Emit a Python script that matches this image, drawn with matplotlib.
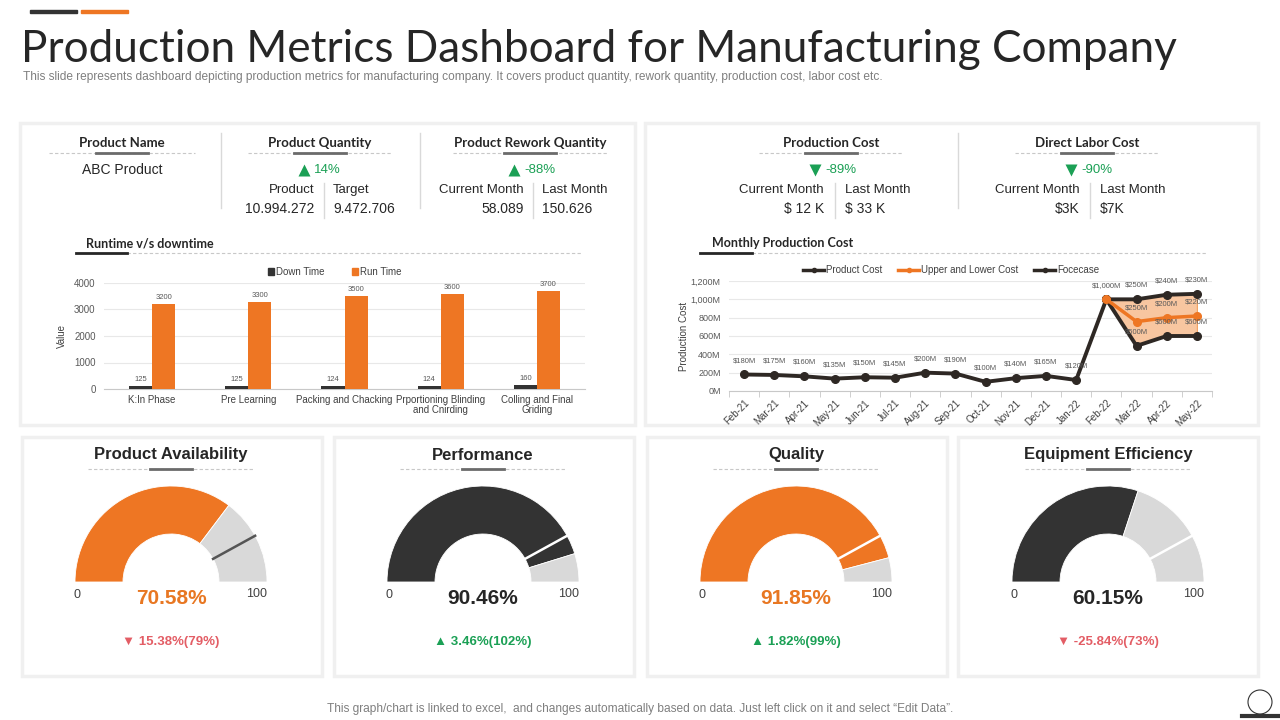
import numpy as np
import matplotlib.pyplot as plt
from matplotlib import patches
from matplotlib.lines import Line2D

# ---------------- data ----------------
categories = ['K:In Phase', 'Pre Learning', 'Packing and Chacking',
              'Prportioning Blinding\nand Cnirding', 'Colling and Final\nGriding']
down_time = [125, 125, 124, 124, 160]
run_time = [3200, 3300, 3500, 3600, 3700]

months = ['Feb-21', 'Mar-21', 'Apr-21', 'May-21', 'Jun-21', 'Jul-21', 'Aug-21', 'Sep-21',
          'Oct-21', 'Nov-21', 'Dec-21', 'Jan-22', 'Feb-22', 'Mar-22', 'Apr-22', 'May-22']
product_cost = [180, 175, 160, 135, 150, 145, 200, 190, 100, 140, 165, 120, 1000]
cost_labels = ['$180M', '$175M', '$160M', '$135M', '$150M', '$145M', '$200M', '$190M',
               '$100M', '$140M', '$165M', '$120M']
upper_cost = [1000, 1000, 1050, 1060]
mid_cost = [1000, 757, 800, 818]
lower_cost = [1000, 492, 600, 600]
upper_labels = ['$1,000M', '$250M', '$240M', '$230M']
mid_labels = ['', '$250M', '$200M', '$220M']
lower_labels = ['', '$500M', '$600M', '$600M']

gauge_titles = ['Product Availability', 'Performance', 'Quality', 'Equipment Efficiency']
gauge_values = [70.58, 90.46, 91.85, 60.15]
gauge_targets = [84, 84, 84, 84]
gauge_delta = ['15.38%(79%)', '3.46%(102%)', '1.82%(99%)', '-25.84%(73%)']
gauge_up = [False, True, True, False]

# ---------------- style ----------------
W, H = 1280, 720
ORANGE = '#EE7623'
DARK = '#333333'
LINE_DARK = '#2e2824'
GREY = '#D9D9D9'
GREEN = '#1BA055'
RED = '#E35D65'
TXT = '#262626'
plt.rcParams['font.family'] = ['Liberation Sans', 'DejaVu Sans']
NARROW = ['Liberation Sans Narrow', 'Liberation Sans', 'DejaVu Sans']
HEAD = ['Lato', 'DejaVu Sans']

fig = plt.figure(figsize=(12.8, 7.2), dpi=100)
ax0 = fig.add_axes([0, 0, 1, 1])
ax0.set_xlim(0, W)
ax0.set_ylim(H, 0)
ax0.axis('off')


def box(x, y, w, h):
    return [x / W, 1 - (y + h) / H, w / W, h / H]


def head(x, y, text, half, solid, gap, size, fam, color=TXT):
    ax0.text(x, y, text, ha='center', va='center', fontsize=size, weight='bold',
             family=fam, color=color)
    ax0.plot([x - half, x + half], [y + gap, y + gap], color='#c8c8c8', lw=0.8, ls=(0, (3, 2)))
    ax0.plot([x - solid, x + solid], [y + gap, y + gap], color='#6b6b6b', lw=2)


def chart_title(x, y, text, x0, x1, x2):
    ax0.text(x, y, text, ha='left', va='center', fontsize=9, weight='bold', family=HEAD, color=TXT)
    ax0.plot([x1, x2], [y + 10, y + 10], color='#c8c8c8', lw=0.8, ls=(0, (3, 2)))
    ax0.plot([x0, x1], [y + 10, y + 10], color=TXT, lw=2)


# header
ax0.add_patch(patches.Rectangle((30, 10), 47, 3, color=DARK))
ax0.add_patch(patches.Rectangle((81, 10), 47, 3, color=ORANGE))
ax0.text(21, 50, 'Production Metrics Dashboard for Manufacturing Company', fontsize=31.8,
         family=HEAD, weight='normal', va='center', color=TXT)
ax0.text(23, 77, 'This slide represents dashboard depicting production metrics for manufacturing '
         'company. It covers product quantity, rework quantity, production cost, labor cost etc.',
         fontsize=8.6, family=NARROW, va='center', color='#7f7f7f')
ax0.text(640, 709, 'This graph/chart is linked to excel,  and changes automatically based on data. '
         'Just left click on it and select \u201cEdit Data\u201d.',
         fontsize=8.6, family=NARROW, ha='center', va='center', color='#7f7f7f')
ax0.add_patch(patches.Circle((1260, 702), 12, fill=False, ec=DARK, lw=0.8))
ax0.plot([1242, 1280], [716, 716], color=DARK, lw=3)

# panels
for (x, y, w, h) in [(20, 123, 615, 302), (645, 123, 613, 302), (22, 437, 300, 239),
                     (334, 437, 300, 239), (647, 437, 300, 239), (958, 437, 300, 239)]:
    ax0.add_patch(patches.Rectangle((x, y), w, h, fc='white', ec='#f0f0f0', lw=2.5, zorder=0))

for x in [221, 420, 958]:
    ax0.plot([x, x], [133, 208], color='#d9d9d9', lw=1)

# KPI blocks
head(122, 143, 'Product Name', 73, 26, 10, 9.5, HEAD)
ax0.text(122, 170, 'ABC Product', ha='center', va='center', fontsize=10, color=TXT)

kpis = [
    (320, 'Product Quantity', 72, '^', '14%', 314, 333, 'Product', 'Target', '10.994.272', '9.472.706'),
    (530, 'Product Rework Quantity', 77, '^', '-88%', 524, 542, 'Current Month', 'Last Month', '58.089', '150.626'),
    (831, 'Production Cost', 72, 'v', '-89%', 824, 845, 'Current Month', 'Last Month', '$ 12 K', '$ 33 K'),
    (1087, 'Direct Labor Cost', 72, 'v', '-90%', 1080, 1100, 'Current Month', 'Last Month', '$3K', '$7K'),
]
for cx, title, half, mk, pct, xr, xl, l1, l2, v1, v2 in kpis:
    head(cx, 143, title, half, 26, 10, 9.5, HEAD)
    ax0.plot(cx - 16, 170, marker=mk, ms=9, color=GREEN, mec='none')
    ax0.text(cx - 6, 170, pct, ha='left', va='center', fontsize=9.5, family=NARROW, color=GREEN)
    ax0.text(xr, 190, l1, ha='right', va='center', fontsize=9.5, family=NARROW, color=TXT)
    ax0.text(xl, 190, l2, ha='left', va='center', fontsize=9.5, family=NARROW, color=TXT)
    ax0.text(xr, 209, v1, ha='right', va='center', fontsize=10, family=NARROW, color=TXT)
    ax0.text(xl, 209, v2, ha='left', va='center', fontsize=10, family=NARROW, color=TXT)
    ax0.plot([(xr + xl) / 2] * 2, [183, 218], color='#d9d9d9', lw=1)

# ---------------- bar chart ----------------
chart_title(86, 243, 'Runtime v/s downtime', 76, 127, 582)
ax1 = fig.add_axes(box(104, 283, 481, 106))
ax1.set_facecolor('none')
x = np.arange(len(categories))
b1 = ax1.bar(x - 0.12, down_time, 0.24, color=DARK, label='Down Time', zorder=3)
b2 = ax1.bar(x + 0.12, run_time, 0.24, color=ORANGE, label='Run Time', zorder=3)
ax1.bar_label(b1, padding=2, fontsize=5.5, color='#595959')
ax1.bar_label(b2, padding=2, fontsize=5.5, color='#595959')
ax1.set_xlim(-0.5, 4.5)
ax1.set_ylim(0, 4000)
ax1.set_yticks(range(0, 4001, 1000))
ax1.set_xticks(x)
ax1.set_xticklabels(categories, fontsize=7, color='#404040', linespacing=1.1)
ax1.tick_params(axis='y', labelsize=7, colors='#595959', length=0, pad=6)
ax1.tick_params(axis='x', length=0, pad=4)
ax1.grid(axis='y', color='#e8e8e8', lw=0.8, zorder=0)
for s in ['top', 'right', 'left']:
    ax1.spines[s].set_visible(False)
ax1.spines['bottom'].set_color('#c8c8c8')
ax1.set_ylabel('Value', fontsize=7, color='#404040', labelpad=5)
leg_handles = [patches.Patch(color=DARK, label='Down Time'), patches.Patch(color=ORANGE, label='Run Time')]
ax1.legend(handles=leg_handles, loc='lower center', bbox_to_anchor=(0.48, 1.02), ncol=2,
           frameon=False, fontsize=7, handlelength=0.6, handleheight=0.6, handletextpad=0.2,
           columnspacing=2.8, borderaxespad=0, labelcolor='#404040')

# ---------------- line chart ----------------
chart_title(712, 243, 'Monthly Production Cost', 700, 752, 1206)
ax2 = fig.add_axes(box(729, 281, 483, 110))
ax2.set_facecolor('none')
xp = np.arange(len(product_cost))
xf = np.arange(len(product_cost) - 1, len(months))
ax2.fill_between(xf, lower_cost, upper_cost, fc='#F8C6A0', ec='#F2A15F', lw=0.8, zorder=2)
ax2.plot(xp, product_cost, color=LINE_DARK, lw=2.8, marker='o', ms=5.5, zorder=4)
ax2.plot(xf, upper_cost, color=LINE_DARK, lw=2.8, marker='o', ms=5.5, zorder=4)
ax2.plot(xf, lower_cost, color=LINE_DARK, lw=2.8, marker='o', ms=5.5, zorder=4)
ax2.plot(xf, mid_cost, color=ORANGE, lw=2.5, marker='o', ms=5.5, zorder=5)
lab_kw = dict(textcoords='offset points', xytext=(0, 10), ha='center', va='center',
              fontsize=5.5, color='#595959', zorder=6)
for xi, v, t in zip(xp, product_cost, cost_labels):
    ax2.annotate(t, (xi, v), **lab_kw)
for series, labels in [(upper_cost, upper_labels), (mid_cost, mid_labels), (lower_cost, lower_labels)]:
    for xi, v, t in zip(xf, series, labels):
        if t:
            ax2.annotate(t, (xi, v), **lab_kw)
ax2.set_xlim(-0.5, len(months) - 0.5)
ax2.set_ylim(0, 1200)
ax2.set_yticks(range(0, 1201, 200))
ax2.set_yticklabels(['{:,}M'.format(v) for v in range(0, 1201, 200)])
ax2.set_xticks(np.arange(len(months)))
ax2.set_xticklabels(months, rotation=45, ha='right', rotation_mode='anchor')
ax2.set_xticks(np.arange(len(months) + 1) - 0.5, minor=True)
ax2.tick_params(axis='x', which='major', length=0, labelsize=7, colors='#404040', pad=5)
ax2.tick_params(axis='x', which='minor', length=4, color='#c8c8c8')
ax2.tick_params(axis='y', length=0, labelsize=6.5, colors='#595959', pad=6)
ax2.grid(axis='y', color='#e8e8e8', lw=0.8, zorder=0)
for s in ['top', 'right', 'left']:
    ax2.spines[s].set_visible(False)
ax2.spines['bottom'].set_color('#c8c8c8')
ax2.set_ylabel('Production Cost', fontsize=7, color='#404040', labelpad=1)
line_handles = [Line2D([], [], color=LINE_DARK, lw=2.5, marker='o', ms=3, label='Product Cost'),
                Line2D([], [], color=ORANGE, lw=2.5, marker='o', ms=3, label='Upper and Lower Cost'),
                Line2D([], [], color=LINE_DARK, lw=2.5, marker='o', ms=3, label='Focecase')]
ax2.legend(handles=line_handles, loc='lower center', bbox_to_anchor=(0.46, 1.02), ncol=3,
           frameon=False, fontsize=7, handlelength=2.2, handletextpad=0.2, columnspacing=1.6,
           borderaxespad=0, labelcolor='#404040')

# ---------------- gauges ----------------
gauge_cx = [171, 483, 796, 1108]
gauge_colors = [ORANGE, DARK, ORANGE, DARK]
value_colors = ['#E87722', TXT, '#E87722', TXT]
marker_colors = ['#555555', 'white', 'white', 'white']
cy, r_out, r_in = 582, 96, 48
for i in range(4):
    cx = gauge_cx[i]
    head(cx, 455, gauge_titles[i], 83, 21, 14, 12, ['Liberation Sans', 'DejaVu Sans'])
    a_val = 180 + gauge_values[i] * 1.8
    ax0.add_patch(patches.Wedge((cx, cy), r_out, 180, a_val, width=r_out - r_in,
                                fc=gauge_colors[i], ec='white', lw=0.6))
    ax0.add_patch(patches.Wedge((cx, cy), r_out, a_val, 360, width=r_out - r_in,
                                fc=GREY, ec='white', lw=0.6))
    t = np.deg2rad(180 + gauge_targets[i] * 1.8)
    ax0.plot([cx + r_in * np.cos(t), cx + r_out * np.cos(t)],
             [cy + r_in * np.sin(t), cy + r_out * np.sin(t)], color=marker_colors[i], lw=1.8)
    ax0.text(cx - 94, 595, '0', ha='center', va='center', fontsize=9, family=NARROW, color='#404040')
    ax0.text(cx + 86, 594, '100', ha='center', va='center', fontsize=9, family=NARROW, color='#404040')
    ax0.text(cx, 599, '{:.2f}%'.format(gauge_values[i]), ha='center', va='center', fontsize=15,
             weight='bold', color=value_colors[i])
    c = GREEN if gauge_up[i] else RED
    tri = '\u25B2' if gauge_up[i] else '\u25BC'
    ax0.text(cx, 642, tri + ' ' + gauge_delta[i], ha='center', va='center', fontsize=9.5,
             weight='bold', color=c)

fig.savefig('out.png', dpi=100)
